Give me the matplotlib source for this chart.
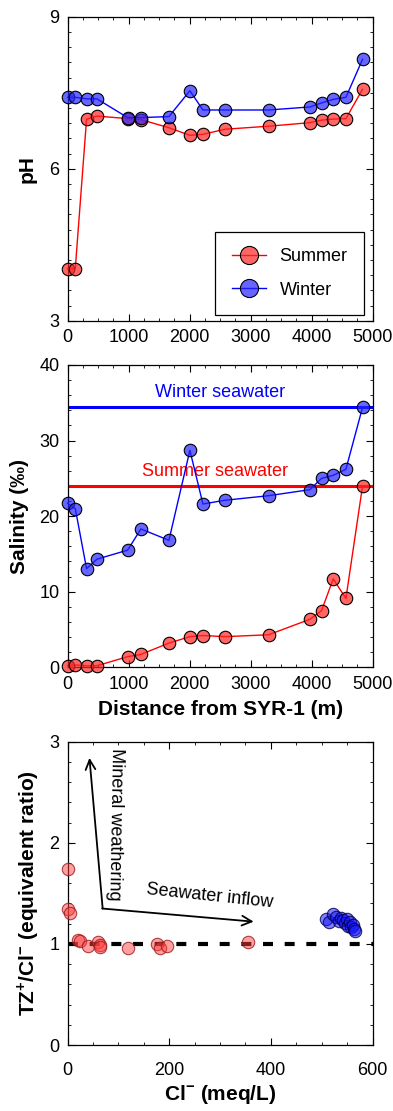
import numpy as np
import matplotlib
matplotlib.use("Agg")
import matplotlib.pyplot as plt
from matplotlib.ticker import MultipleLocator

plt.rcParams['font.family'] = ['Liberation Sans', 'DejaVu Sans']
plt.rcParams['mathtext.fontset'] = 'custom'
plt.rcParams['mathtext.rm'] = 'Liberation Sans'
plt.rcParams['mathtext.bf'] = 'Liberation Sans:bold'

# distance from SYR-1 (m)
distance = [0, 126, 311, 481, 984, 1202, 1661, 2005, 2219, 2579, 3295, 3973, 4164, 4355, 4563, 4836]

ph_summer = [4.03, 4.03, 6.98, 7.04, 6.99, 6.97, 6.81, 6.66, 6.68, 6.78, 6.84, 6.91, 6.96, 6.98, 6.99, 7.57]
ph_winter = [7.41, 7.41, 7.38, 7.38, 7.01, 7.01, 7.03, 7.54, 7.16, 7.16, 7.16, 7.22, 7.30, 7.37, 7.41, 8.16]

sal_summer = [0.2, 0.3, 0.2, 0.2, 1.4, 1.7, 3.2, 4.05, 4.2, 4.05, 4.3, 6.35, 7.5, 11.7, 9.1, 24.0]
sal_winter = [21.7, 21.0, 13.05, 14.3, 15.5, 18.3, 16.8, 28.7, 21.6, 22.1, 22.7, 23.5, 25.0, 25.4, 26.2, 34.4]

seawater_summer = 24.0
seawater_winter = 34.4

# Cl- (meq/L) vs TZ+/Cl-
cl_summer = [0, 1.5, 4.5, 21, 25, 41, 60, 64, 63, 119, 175, 181, 195, 355]
tz_summer = [1.74, 1.35, 1.31, 1.04, 1.03, 0.98, 1.02, 0.99, 0.97, 0.96, 1.0, 0.96, 0.98, 1.02]
cl_winter = [508, 515, 522, 528, 533, 538, 542, 546, 549, 552, 555, 558, 561, 564, 566]
tz_winter = [1.25, 1.22, 1.30, 1.27, 1.23, 1.26, 1.24, 1.21, 1.25, 1.18, 1.22, 1.17, 1.19, 1.15, 1.13]

red_face = (1, 0.15, 0.15, 0.7)
blue_face = (0.15, 0.15, 1, 0.7)


def style_axis(ax):
    ax.tick_params(which='both', direction='in', top=True, right=True, labelsize=13, pad=6)
    ax.tick_params(which='major', length=5)
    ax.tick_params(which='minor', length=2.5)
    for s in ax.spines.values():
        s.set_linewidth(0.9)


fig = plt.figure(figsize=(3.93, 11.11), dpi=100)
ax1 = fig.add_axes([0.172, 0.7113, 0.776, 0.2736])
ax2 = fig.add_axes([0.172, 0.3994, 0.776, 0.2721])
ax3 = fig.add_axes([0.172, 0.0594, 0.776, 0.2730])

# pH panel
ax1.plot(distance, ph_summer, '-o', color='red', lw=1, ms=9, mfc=red_face, mec='black', mew=0.8,
         label='Summer', clip_on=False, zorder=3)
ax1.plot(distance, ph_winter, '-o', color='blue', lw=1, ms=9, mfc=blue_face, mec='black', mew=0.8,
         label='Winter', clip_on=False, zorder=3)
ax1.set_xlim(0, 5000)
ax1.set_ylim(3, 9)
ax1.yaxis.set_major_locator(MultipleLocator(3))
ax1.yaxis.set_minor_locator(MultipleLocator(0.3))
ax1.xaxis.set_major_locator(MultipleLocator(1000))
ax1.xaxis.set_minor_locator(MultipleLocator(250))
ax1.set_ylabel('pH', fontsize=15, fontweight='bold', labelpad=9)
style_axis(ax1)
leg = ax1.legend(loc='lower right', bbox_to_anchor=(0.971, 0.019), fontsize=13, markerscale=1.45,
                 fancybox=False, framealpha=1, edgecolor='black', borderpad=0.9,
                 labelspacing=0.9, handlelength=1.9, handletextpad=0.75, borderaxespad=0)
leg.get_frame().set_linewidth(0.9)

# Salinity panel
ax2.axhline(seawater_winter, color='blue', lw=2.2)
ax2.axhline(seawater_summer, color='red', lw=2.2)
ax2.text(2500, seawater_winter + 1.9, 'Winter seawater', color='blue', fontsize=13, ha='center', va='center')
ax2.text(2420, seawater_summer + 1.9, 'Summer seawater', color='red', fontsize=13, ha='center', va='center')
ax2.plot(distance, sal_summer, '-o', color='red', lw=1, ms=9, mfc=red_face, mec='black', mew=0.8,
         clip_on=False, zorder=3)
ax2.plot(distance, sal_winter, '-o', color='blue', lw=1, ms=9, mfc=blue_face, mec='black', mew=0.8,
         clip_on=False, zorder=3)
ax2.set_xlim(0, 5000)
ax2.set_ylim(0, 40)
ax2.yaxis.set_major_locator(MultipleLocator(10))
ax2.yaxis.set_minor_locator(MultipleLocator(2))
ax2.xaxis.set_major_locator(MultipleLocator(1000))
ax2.xaxis.set_minor_locator(MultipleLocator(250))
ax2.set_ylabel('Salinity (‰)', fontsize=15, fontweight='bold', labelpad=7)
ax2.set_xlabel('Distance from SYR-1 (m)', fontsize=15, fontweight='bold', labelpad=5)
style_axis(ax2)

# TZ+/Cl- panel
ax3.axhline(1, color='black', lw=3, ls=(0, (2.4, 2.8)), zorder=1)
ax3.scatter(cl_summer, tz_summer, s=80, facecolor=(1, 0.25, 0.25, 0.5), edgecolor=(0.6, 0.1, 0.1, 0.8),
            lw=0.8, zorder=3, clip_on=False)
ax3.scatter(cl_winter, tz_winter, s=80, facecolor=(0.1, 0.1, 1, 0.55), edgecolor=(0, 0, 0.3, 0.8),
            lw=0.8, zorder=3, clip_on=False)
ax3.annotate('', xy=(43, 2.84), xytext=(69, 1.35),
             arrowprops=dict(arrowstyle='->,head_length=0.7,head_width=0.35', color='black', lw=1.3, shrinkA=0, shrinkB=0))
ax3.annotate('', xy=(366, 1.22), xytext=(68, 1.35),
             arrowprops=dict(arrowstyle='->,head_length=0.7,head_width=0.35', color='black', lw=1.3, shrinkA=0, shrinkB=0))
ax3.text(94, 2.18, 'Mineral weathering', rotation=-91, fontsize=13, ha='center', va='center')
ax3.text(280, 1.47, 'Seawater inflow', rotation=-6, fontsize=13, ha='center', va='center')
ax3.set_xlim(0, 600)
ax3.set_ylim(0, 3)
ax3.yaxis.set_major_locator(MultipleLocator(1))
ax3.yaxis.set_minor_locator(MultipleLocator(0.2))
ax3.xaxis.set_major_locator(MultipleLocator(200))
ax3.xaxis.set_minor_locator(MultipleLocator(50))
ax3.set_ylabel(r'TZ$^{\mathbf{+}}$/Cl$^{\mathbf{-}}$ (equivalent ratio)', fontsize=15, fontweight='bold', labelpad=6)
ax3.set_xlabel(r'Cl$^{\mathbf{-}}$ (meq/L)', fontsize=15, fontweight='bold', labelpad=3)
style_axis(ax3)
ax3.tick_params(axis='x', which='both', pad=12)

fig.savefig('out.png', dpi=100)
